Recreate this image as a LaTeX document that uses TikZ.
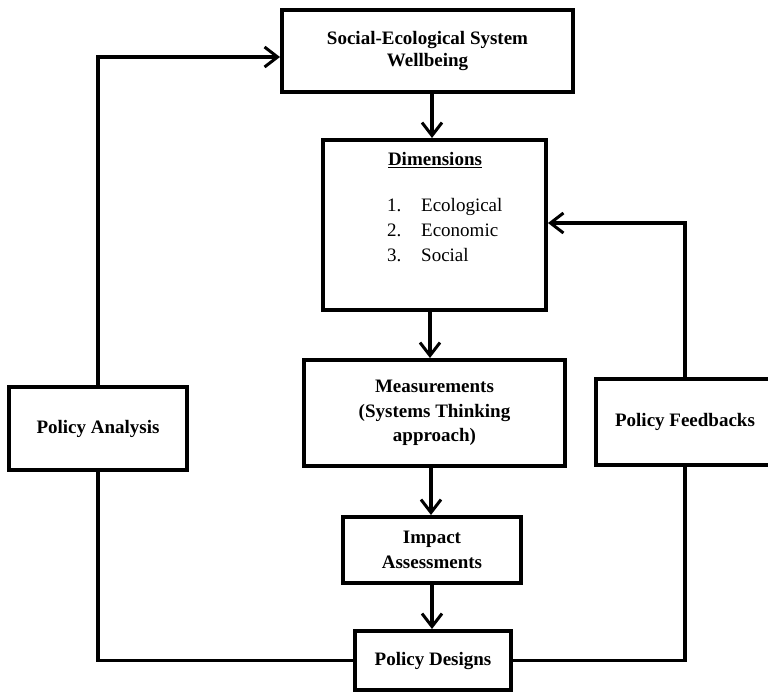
\documentclass[tikz,border=0pt]{standalone}
\usepackage{fontspec}
\setmainfont{Liberation Serif}
\usetikzlibrary{arrows.meta,calc}
\begin{document}
\begin{tikzpicture}[x=1pt,y=-1pt,
  box/.style={draw=black,line width=4pt,fill=white,rectangle,inner sep=0pt,
    align=center,font=\fontsize{19}{24.5}\selectfont\bfseries},
  link/.style={line width=3.3pt,line join=miter},
  arr/.style={link,-{Straight Barb[length=13pt,width=20pt,line width=3pt]}}]
  \clip (0,0) rectangle (768,694);
  \fill[white] (0,0) rectangle (768,694);

  % boxes
  \node[box,minimum width=291pt,minimum height=82pt,
        font=\fontsize{19}{22.5}\selectfont\bfseries] (top) at (427.5,51)
        {Social-Ecological System\\Wellbeing};
  \node[box,minimum width=223pt,minimum height=170pt] (dims) at (434.5,225) {};
  \node[box,minimum width=261pt,minimum height=106pt] (meas) at (434.5,413)
        {Measurements\\(Systems Thinking\\approach)};
  \node[box,minimum width=178pt,minimum height=66pt] (imp) at (432,550)
        {Impact\\Assessments};
  \node[box,minimum width=156pt,minimum height=59pt] (pd) at (433,660.5)
        {Policy Designs};
  \node[box,minimum width=178pt,minimum height=83pt] (pa) at (98,428.5)
        {Policy Analysis};
  \node[box,minimum width=178pt,minimum height=86pt] (pf) at (685,422)
        {Policy Feedbacks};

  % contents of the dimensions box
  \node[inner sep=0pt,font=\fontsize{19}{24}\selectfont\bfseries] (dimtitle)
        at (435,160) {\underline{Dimensions}};
  \node[inner sep=0pt,anchor=west,font=\fontsize{19}{25}\selectfont] (dimlist)
        at (387,231)
        {\begin{tabular}{@{}p{34pt}@{}l@{}}
           1. & Ecological\\
           2. & Economic\\
           3. & Social
         \end{tabular}};

  % main vertical chain
  \coordinate (spine) at (432,0);
  \draw[arr] (top.south -| spine) -- (dims.north -| spine);
  \draw[arr] ($(dims.south -| spine)+(-2,0)$) -- ($(meas.north -| spine)+(-2,0)$);
  \draw[arr] ($(meas.south -| spine)+(-1,0)$) -- ($(imp.north -| spine)+(-1,0)$);
  \draw[arr] (imp.south -| spine) -- (pd.north -| spine);

  % feedback loops
  \draw[arr] (pa.north) |- ($(top.west)+(0,6)$);
  \draw[arr] (pf.north) |- ($(dims.east)+(0,-2)$);
  \draw[link] (pa.south) |- (pd.west);
  \draw[link] (pd.east) -| (pf.south);
\end{tikzpicture}
\end{document}
